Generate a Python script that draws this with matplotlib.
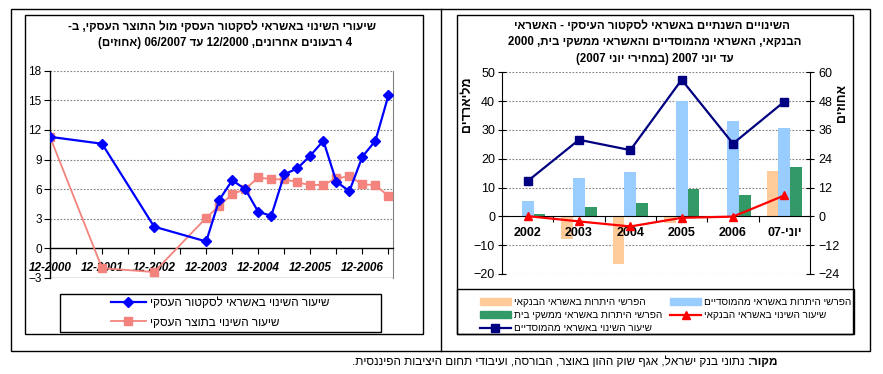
import re
import matplotlib
matplotlib.use('Agg')
import matplotlib.pyplot as plt
from matplotlib.patches import Rectangle, Patch
from matplotlib.lines import Line2D

plt.rcParams['font.family'] = ['Liberation Sans', 'DejaVu Sans']

# ---- left chart data: yearly change, last 4 quarters (percent)
dates = ['2000-12', '2001-12', '2002-12', '2003-12', '2004-03', '2004-06', '2004-09',
         '2004-12', '2005-03', '2005-06', '2005-09', '2005-12', '2006-03', '2006-06',
         '2006-09', '2006-12', '2007-03', '2007-06']
credit_growth = [11.3, 10.6, 2.2, 0.7, 4.9, 6.9, 6.0, 3.7, 3.3, 7.5, 8.1, 9.4, 10.9,
                 6.75, 5.8, 9.3, 10.9, 15.5]
gdp_growth = [11.3, -2.0, -2.4, 3.1, 4.3, 5.5, 6.0, 7.2, 7.0, 7.0, 6.7, 6.4, 6.45,
              7.1, 7.3, 6.5, 6.4, 5.3]
year_labels = ['12-2000', '12-2001', '12-2002', '12-2003', '12-2004', '12-2005', '12-2006']

# ---- right chart data
years = ['2002', '2003', '2004', '2005', '2006', 'יוני-07']
bank_diff = [0.0, -8.0, -16.6, -2.3, -0.5, 15.9]     # billions
inst_diff = [5.2, 13.2, 15.3, 40.0, 33.2, 30.8]
house_diff = [0.7, 3.1, 4.5, 9.4, 7.3, 17.2]
bank_rate = [0.1, -2.1, -4.2, -0.6, -0.1, 8.7]       # percent
inst_rate = [14.7, 31.9, 27.6, 56.9, 30.3, 47.8]


def rtl(s):
    # crude visual ordering for hebrew text, keeps numbers left-to-right
    mirror = {'(': ')', ')': '('}
    parts = re.split(r'([0-9A-Za-z]+(?:[/.\-:][0-9A-Za-z]+)*)', s)
    out = []
    for i, p in enumerate(parts):
        if i % 2 == 1:
            out.append(p)
        else:
            out.append(''.join(mirror.get(c, c) for c in reversed(p)))
    return ''.join(reversed(out))


W, H = 883, 374
fig = plt.figure(figsize=(W / 100, H / 100), dpi=100)


def fx(px):
    return px / W


def fy(py):
    return 1 - py / H


def box(x0, y0, x1, y1, lw=1.0):
    fig.patches.append(Rectangle((fx(x0), fy(y1)), (x1 - x0) / W, (y1 - y0) / H,
                                 transform=fig.transFigure, fill=False,
                                 edgecolor='black', lw=lw))


# outer frames
box(11, 9, 870, 351)
fig.add_artist(Line2D([fx(441), fx(441)], [fy(9), fy(351)], color='black', lw=1.0))
box(25, 15, 423, 334)
box(457, 15, 853, 334)
box(60, 294, 381, 332)
box(457, 289, 854, 334)

grid_kw = dict(color='#808080', linestyle=(0, (1.5, 1.5)), linewidth=0.8)

# ================= left chart =================
ax1 = fig.add_axes([fx(50), fy(278), 343 / W, 207.3 / H])
qx = [((int(d[:4]) * 12 + int(d[5:])) - (2000 * 12 + 12)) / 3 for d in dates]
ax1.plot(qx, credit_growth, color='#0000FF', lw=1.6, marker='D', ms=5, zorder=4)
ax1.plot(qx, gdp_growth, color='#F4837D', lw=1.3, marker='s', ms=5.5, zorder=3)
ax1.set_xlim(0, 26.35)
ax1.set_ylim(-3, 18)
ax1.set_yticks(range(-3, 19, 3))
for v in range(3, 19, 3):
    ax1.axhline(v, zorder=0, **grid_kw)
ax1.axhline(-3, color='#808080', lw=1.0, zorder=0)
ax1.spines['bottom'].set_position(('data', 0))
ax1.spines['top'].set_visible(False)
ax1.spines['right'].set_color('#808080')
ax1.spines['left'].set_linewidth(1.0)
ax1.spines['bottom'].set_linewidth(1.0)
ax1.set_xticks(range(0, 27, 2))
ax1.set_xticklabels([year_labels[i // 4] if i % 4 == 0 else '' for i in range(0, 27, 2)],
                    fontsize=8.5, fontweight='bold', fontstyle='italic')
ax1.tick_params(axis='x', direction='out', length=4, pad=6)
ax1.tick_params(axis='y', direction='out', length=4, pad=2, labelsize=8.5)

fig.text(fx(222), fy(27), rtl('שיעורי השינוי באשראי לסקטור העסקי מול התוצר העסקי, ב-'),
         ha='center', va='center', fontsize=8.3, fontweight='bold')
fig.text(fx(225), fy(43), rtl('4 רבעונים אחרונים, 12/2000 עד 06/2007 (אחוזים)'),
         ha='center', va='center', fontsize=8.3, fontweight='bold')

h1 = [Line2D([], [], color='#0000FF', lw=1.6, marker='D', ms=5),
      Line2D([], [], color='#F4837D', lw=1.3, marker='s', ms=5.5)]
l1 = [rtl('שיעור השינוי באשראי לסקטור העסקי'), rtl('שיעור השינוי בתוצר העסקי')]
fig.legend(h1, l1, loc='center', bbox_to_anchor=(fx(220), fy(313)), frameon=False,
           fontsize=8.5, handlelength=3.0, handletextpad=0.3, labelspacing=0.6)

# ================= right chart =================
ax2 = fig.add_axes([fx(502), fy(274), 308 / W, 201.7 / H])
xs = list(range(len(years)))
bw = 0.23
ax2.bar([x - bw for x in xs], bank_diff, bw, color='#FFCC99', zorder=1)
ax2.bar(xs, inst_diff, bw, color='#99CCFF', zorder=1)
ax2.bar([x + bw for x in xs], house_diff, bw, color='#339966', zorder=1)
ax2.set_xlim(-0.5, 5.5)
ax2.set_ylim(-20, 50)
ax2.set_yticks(range(-20, 51, 10))
for v in range(-20, 51, 10):
    if v != 0:
        ax2.axhline(v, zorder=0.5, **grid_kw)
ax2.spines['bottom'].set_position(('data', 0))
ax2.spines['top'].set_visible(False)
ax2.spines['right'].set_visible(False)
ax2.set_xticks([x + 0.5 for x in xs[:-1]])
ax2.set_xticklabels([])
ax2.set_xticks(xs, minor=True)
ax2.set_xticklabels([rtl(y) for y in years], minor=True, fontsize=9, fontweight='bold')
ax2.tick_params(axis='x', which='major', direction='out', length=4)
ax2.tick_params(axis='x', which='minor', length=0, pad=8)
ax2.tick_params(axis='y', direction='inout', length=6, pad=2, labelsize=9)

ax3 = ax2.twinx()
ax3.plot(xs, bank_rate, color='#FF0000', lw=1.6, marker='^', ms=6, zorder=5)
ax3.plot(xs, inst_rate, color='#000080', lw=1.6, marker='s', ms=6, zorder=5)
ax3.set_ylim(-24, 60)
ax3.set_yticks(range(-24, 61, 12))
for side in ['top', 'left', 'bottom']:
    ax3.spines[side].set_visible(False)
ax3.tick_params(axis='y', direction='inout', length=6, pad=3, labelsize=9)

# axis titles, upper part of the plot as in the original
fig.text(fx(467), fy(104), rtl('מליארדים'), rotation=90, ha='center', va='center',
         fontsize=9, fontweight='bold')
fig.text(fx(842), fy(103), rtl('אחוזים'), rotation=90, ha='center', va='center',
         fontsize=9, fontweight='bold')

fig.text(fx(652), fy(26), rtl('השינויים השנתיים באשראי לסקטור העיסקי - האשראי'),
         ha='center', va='center', fontsize=8.3, fontweight='bold')
fig.text(fx(655), fy(42), rtl('הבנקאי, האשראי מהמוסדיים והאשראי ממשקי בית, 2000'),
         ha='center', va='center', fontsize=8.3, fontweight='bold')
fig.text(fx(655), fy(59), rtl('עד יוני 2007 (במחירי יוני 2007)'),
         ha='center', va='center', fontsize=8.3, fontweight='bold')

h2 = [Patch(color='#FFCC99'), Patch(color='#339966'),
      Line2D([], [], color='#000080', lw=1.6, marker='s', ms=6),
      Patch(color='#99CCFF'),
      Line2D([], [], color='#FF0000', lw=1.6, marker='^', ms=6)]
l2 = [rtl('הפרשי היתרות באשראי הבנקאי'), rtl('הפרשי היתרות באשראי ממשקי בית'),
      rtl('שיעור השינוי באשראי מהמוסדיים'), rtl('הפרשי היתרות באשראי מהמוסדיים'),
      rtl('שיעור השינוי באשראי הבנקאי')]
fig.legend(h2, l2, loc='upper left', bbox_to_anchor=(fx(475), fy(292)), frameon=False,
           ncol=2, fontsize=7.2, handlelength=3.1, handleheight=0.6, handletextpad=0.3,
           labelspacing=0.3, columnspacing=0.8, borderpad=0)

# source line
renderer = fig.canvas.get_renderer()
t = fig.text(fx(778), fy(362), rtl('מקור:'), ha='right', va='center',
             fontsize=8.5, fontweight='bold')
bb = t.get_window_extent(renderer)
fig.text(bb.x0 / W, fy(362), rtl(' נתוני בנק ישראל, אגף שוק ההון באוצר, הבורסה, ועיבודי תחום היציבות הפיננסית.'),
         ha='right', va='center', fontsize=8.5)

fig.savefig('out.png', dpi=100)
